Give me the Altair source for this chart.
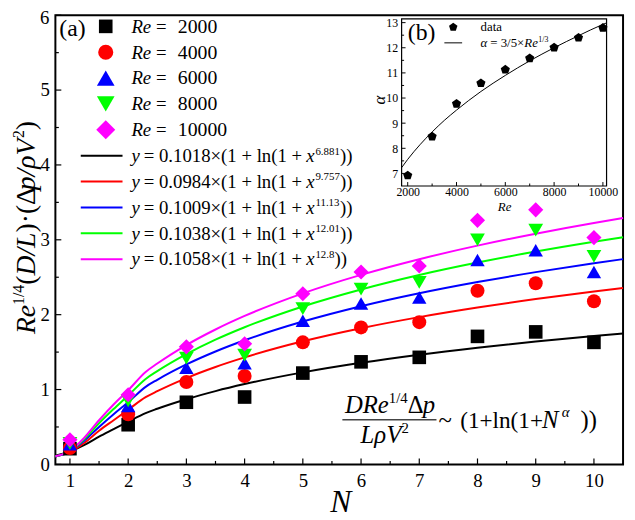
import altair as alt
import pandas as pd

FONT = "Liberation Serif"
OX, OY = 56, 12          # page position of the plot origin
W, H = 575, 455          # plot area

# ---------------- main data ----------------
N = [1, 2, 3, 4, 5, 6, 7, 8, 9, 10]
series = ["Re2000", "Re4000", "Re6000", "Re8000", "Re10000"]
re_labels = ["2000", "4000", "6000", "8000", "10000"]
re2000 = [0.21, 0.53, 0.83, 0.90, 1.22, 1.37, 1.43, 1.71, 1.77, 1.63]
re4000 = [0.22, 0.67, 1.10, 1.18, 1.63, 1.83, 1.90, 2.32, 2.42, 2.18]
re6000 = [0.27, 0.78, 1.29, 1.35, 1.92, 2.15, 2.23, 2.73, 2.86, 2.57]
re8000 = [0.28, 0.85, 1.42, 1.46, 2.08, 2.34, 2.43, 3.00, 3.13, 2.78]
re10000 = [0.33, 0.93, 1.57, 1.61, 2.28, 2.57, 2.65, 3.26, 3.40, 3.03]

fit_x = [0.75, 1, 1.25, 1.5, 1.75, 2, 2.3, 2.5, 3, 3.5, 4, 5, 6, 7, 8, 9, 10, 10.5]
fit_black = [0.115, 0.172, 0.26, 0.37, 0.47, 0.57, 0.686, 0.744, 0.871, 0.979, 1.073, 1.229, 1.357, 1.465, 1.558, 1.641, 1.715, 1.749]
fit_red = [0.104, 0.167, 0.29, 0.45, 0.59, 0.73, 0.898, 0.978, 1.153, 1.301, 1.429, 1.644, 1.819, 1.967, 2.095, 2.208, 2.309, 2.356]
fit_blue = [0.105, 0.171, 0.32, 0.50, 0.67, 0.83, 1.036, 1.130, 1.335, 1.508, 1.658, 1.908, 2.113, 2.286, 2.436, 2.568, 2.687, 2.742]
fit_green = [0.107, 0.176, 0.34, 0.55, 0.74, 0.92, 1.142, 1.246, 1.473, 1.666, 1.832, 2.110, 2.337, 2.530, 2.696, 2.843, 2.974, 3.035]
fit_magenta = [0.108, 0.179, 0.36, 0.59, 0.80, 0.99, 1.234, 1.347, 1.594, 1.802, 1.983, 2.285, 2.532, 2.741, 2.922, 3.081, 3.224, 3.290]
fit_coef = ["0.1018", "0.0984", "0.1009", "0.1038", "0.1058"]
fit_exp = ["6.881", "9.757", "11.13", "12.01", "12.8"]

colors = ["#000000", "#ff0000", "#0000ff", "#00ff00", "#ff00ff"]
shapes = ["square", "circle", "triangle-up", "triangle-down", "diamond"]
sizes = [190, 235, 320, 320, 370]

x_major = [1, 2, 3, 4, 5, 6, 7, 8, 9, 10]
x_minor = [1.5, 2.5, 3.5, 4.5, 5.5, 6.5, 7.5, 8.5, 9.5]
y_major = [0, 1, 2, 3, 4, 5, 6]
y_labels_axis = [0, 1, 2, 3, 4, 5]
y_minor = [0.5, 1.5, 2.5, 3.5, 4.5, 5.5]

# ---------------- inset data ----------------
in_re = [2000, 3000, 4000, 5000, 6000, 7000, 8000, 9000, 10000]
in_alpha = [6.92, 8.47, 9.77, 10.59, 11.13, 11.58, 12.01, 12.40, 12.79]
in_fit_re = [1750, 2000, 2500, 3000, 3500, 4000, 5000, 6000, 7000, 8000, 9000, 10000, 10150]
in_fit_alpha = [7.23, 7.56, 8.14, 8.65, 9.11, 9.52, 10.26, 10.90, 11.48, 12.00, 12.48, 12.93, 12.99]
in_x_major = [2000, 4000, 6000, 8000, 10000]
in_x_minor = [3000, 5000, 7000, 9000]
in_y_major = [7, 8, 9, 10, 11, 12, 13]
in_y_minor = [7.5, 8.5, 9.5, 10.5, 11.5, 12.5]

PENT = "M0,-1L0.951,-0.309L0.588,0.809L-0.588,0.809L-0.951,-0.309Z"

# ---------------- helpers ----------------
REG = {' ': 250, '(': 333, ')': 333, '+': 564, '=': 564, '×': 564, '.': 250, '/': 278,
       'l': 278, 'n': 500, '~': 541, 'Δ': 612, '·': 250, 'd': 500, 'a': 444, 't': 278, 'b': 500}
for _d in "0123456789":
    REG[_d] = 500
ITA = {'R': 611, 'e': 444, 'y': 444, 'x': 444, 'D': 722, 'L': 556, 'p': 500, 'V': 611,
       'N': 667, 'ρ': 500, 'α': 520, '/': 278}


def tw(s, size, italic=False):
    tab = ITA if italic else REG
    return sum(tab.get(c, 500) for c in s) * size / 1000.0


dummy = pd.DataFrame({"k": [0]})


def txt(s, px, py, size, italic=False, angle=0, align="left", baseline="alphabetic", color="black"):
    kw = dict(text=s, font=FONT, fontSize=size, align=align, baseline=baseline, color=color)
    if italic:
        kw["fontStyle"] = "italic"
    if angle:
        kw["angle"] = angle
    return alt.Chart(dummy).mark_text(**kw).encode(x=alt.value(px - OX), y=alt.value(py - OY))


def run(pieces, px, py):
    """pieces: (text, size, italic, rise, gap_before)"""
    out, x = [], px
    for s, size, it, rise, gap in pieces:
        x += gap
        out.append(txt(s, x, py - rise, size, it))
        x += tw(s, size, it)
    return out


def vrun(pieces, px, py):
    out, y = [], py
    for s, size, it, rise in pieces:
        out.append(txt(s, px - rise, y, size, it, angle=270))
        y -= tw(s, size, it)
    return out


def seg(px1, px2, py1, py2, color="black", width=2.0):
    return alt.Chart(dummy).mark_rule(color=color, strokeWidth=width).encode(
        x=alt.value(px1 - OX), x2=alt.value(px2 - OX), y=alt.value(py1 - OY), y2=alt.value(py2 - OY))


# ---------------- main panel ----------------
pts = pd.DataFrame({
    "N": N * 5,
    "v": re2000 + re4000 + re6000 + re8000 + re10000,
    "s": [s for s in series for _ in N],
})
fits = pd.DataFrame({
    "x": fit_x * 5,
    "y": fit_black + fit_red + fit_blue + fit_green + fit_magenta,
    "s": [s for s in series for _ in fit_x],
})

xs = alt.Scale(domain=[0.75, 10.5], nice=False, zero=False)
ys = alt.Scale(domain=[0, 6], nice=False, zero=False)
xaxis = alt.Axis(values=x_major, ticks=False, tickSize=0, domain=False, grid=False,
                 labelFont=FONT, labelFontSize=19, labelPadding=7, labelColor="black",
                 labelFlush=False, title=None)
yaxis = alt.Axis(values=y_labels_axis, ticks=False, tickSize=0, domain=False, grid=False,
                 labelFont=FONT, labelFontSize=19, labelPadding=6, labelColor="black",
                 labelFlush=False, title=None)
cscale = alt.Scale(domain=series, range=colors)

lines = alt.Chart(fits).mark_line(strokeWidth=2, interpolate="monotone").encode(
    x=alt.X("x:Q", scale=xs, axis=xaxis),
    y=alt.Y("y:Q", scale=ys, axis=yaxis),
    color=alt.Color("s:N", scale=cscale, legend=None),
    detail="s:N",
)
points = alt.Chart(pts).mark_point(filled=True, opacity=1, strokeWidth=0).encode(
    x=alt.X("N:Q", scale=xs, axis=xaxis),
    y=alt.Y("v:Q", scale=ys, axis=yaxis),
    color=alt.Color("s:N", scale=cscale, legend=None),
    shape=alt.Shape("s:N", scale=alt.Scale(domain=series, range=shapes), legend=None),
    size=alt.Size("s:N", scale=alt.Scale(domain=series, range=sizes), legend=None),
)


def xticks(vals, length):
    return alt.Chart(pd.DataFrame({"v": vals})).mark_rule(color="black", strokeWidth=1.2).encode(
        x=alt.X("v:Q", scale=xs, axis=xaxis), y=alt.value(H), y2=alt.value(H - length))


def yticks(vals, length):
    return alt.Chart(pd.DataFrame({"v": vals})).mark_rule(color="black", strokeWidth=1.2).encode(
        y=alt.Y("v:Q", scale=ys, axis=yaxis), x=alt.value(0), x2=alt.value(length))


main_layers = [xticks(x_major, 6), xticks(x_minor, 3.5), yticks(y_major, 6), yticks(y_minor, 3.5),
               lines, points]

# top y label (kept just inside the page)
main_layers.append(txt(str(y_major[-1]), 50, 14.5, 19, align="right", baseline="middle"))

# legend
row_y = [23.3 + 26.2 * i for i in range(10)]
for i, s in enumerate(series):
    cy = row_y[i]
    main_layers.append(
        alt.Chart(dummy).mark_point(filled=True, opacity=1, strokeWidth=0, shape=shapes[i],
                                    size=sizes[i], color=colors[i]).encode(
            x=alt.value(107 - OX), y=alt.value(cy - OY)))
    main_layers.append(txt("Re", 133, cy + 6.4, 19, True))
    main_layers.append(txt("=", 158, cy + 6.4, 19))
    main_layers.append(txt(re_labels[i], 180, cy + 6.4, 20))
for i in range(5):
    cy = row_y[5 + i]
    main_layers.append(seg(81.7, 124, cy, cy, colors[i], 2))
    main_layers += run([("y", 19, True, 0, 0),
                        ("= " + fit_coef[i] + "×(1 + ln(1 +", 19, False, 0, 4),
                        ("x", 19, True, 0, 4),
                        (fit_exp[i], 11, False, 7.5, 1),
                        ("))", 19, False, 0, 0)], 133, cy + 6.3)

# panel label
main_layers.append(txt("(a)", 60, 33, 24))

# axis titles
main_layers += vrun([("Re", 28, True, 0), ("1/4", 16, False, 11), ("(", 28, False, 0),
                     ("D/L", 28, True, 0), (")·(Δ", 28, False, 0), ("p/ρV", 28, True, 0),
                     ("2", 16, False, 11), (")", 28, False, 0)], 35, 335)
main_layers.append(txt("N", 345, 515, 32, True, align="center"))

# formula annotation
main_layers += run([("DRe", 25, True, 0, 0), ("1/4", 15, False, 10, 0), ("Δ", 25, False, 0, 0),
                    ("p", 25, True, 0, 0)], 349.3, 415)
main_layers.append(seg(346.7, 442, 421.7, 421.7, "#444444", 1.5))
main_layers += run([("L", 25, True, 0, 0), ("ρ", 25, True, 0, 0), ("V", 25, True, 0, 0),
                    ("2", 15, False, 10, 0)], 365, 445)
main_layers.append(txt("~", 444, 430, 25))
main_layers.append(txt("(1+ln(1+", 466, 430, 23.5))
main_layers.append(txt("N", 549, 430, 25, True))
main_layers.append(txt("α", 569, 419, 15, True))
main_layers.append(txt("))", 588, 430, 25))

main = alt.layer(*main_layers)

# ---------------- inset ----------------
ixs = alt.Scale(domain=[1750, 10150], range=[406.7 - OX, 614.3 - OX], nice=False, zero=False)
iys = alt.Scale(domain=[6.5, 13.15], range=[185 - OY, 15.7 - OY], nice=False, zero=False)
ixaxis = alt.Axis(orient="bottom", offset=185 - OY - H, values=in_x_major, format="d",
                  ticks=False, tickSize=0, domain=False, grid=False, labelFont=FONT,
                  labelFontSize=12, labelPadding=1, labelColor="black", labelFlush=False, title=None)
iyaxis = alt.Axis(orient="left", offset=-(406.7 - OX), values=in_y_major, format="d",
                  ticks=False, tickSize=0, domain=False, grid=False, labelFont=FONT,
                  labelFontSize=12, labelPadding=4, labelColor="black", labelFlush=False, title=None)

in_pts = pd.DataFrame({"re": in_re, "a": in_alpha})
in_fit = pd.DataFrame({"re": in_fit_re, "a": in_fit_alpha})

in_layers = [
    alt.Chart(in_fit).mark_line(color="black", strokeWidth=1, interpolate="monotone").encode(
        x=alt.X("re:Q", scale=ixs, axis=ixaxis), y=alt.Y("a:Q", scale=iys, axis=iyaxis)),
    alt.Chart(in_pts).mark_point(filled=True, opacity=1, strokeWidth=0, shape=PENT, size=95,
                                 color="black").encode(
        x=alt.X("re:Q", scale=ixs, axis=ixaxis), y=alt.Y("a:Q", scale=iys, axis=iyaxis)),
]
for vals, ln in ((in_x_major, 4), (in_x_minor, 2.5)):
    in_layers.append(alt.Chart(pd.DataFrame({"v": vals})).mark_rule(color="black", strokeWidth=1).encode(
        x=alt.X("v:Q", scale=ixs, axis=ixaxis), y=alt.value(185 - OY), y2=alt.value(185 - OY - ln)))
for vals, ln in ((in_y_major, 4), (in_y_minor, 2.5)):
    in_layers.append(alt.Chart(pd.DataFrame({"v": vals})).mark_rule(color="black", strokeWidth=1).encode(
        y=alt.Y("v:Q", scale=iys, axis=iyaxis), x=alt.value(406.7 - OX), x2=alt.value(406.7 - OX + ln)))
in_layers.append(alt.Chart(dummy).mark_rect(fillOpacity=0, stroke="black", strokeWidth=1.2).encode(
    x=alt.value(406.7 - OX), x2=alt.value(614.3 - OX), y=alt.value(15.7 - OY), y2=alt.value(185 - OY)))
# inset legend + labels
in_layers.append(alt.Chart(dummy).mark_point(filled=True, opacity=1, strokeWidth=0, shape=PENT,
                                             size=80, color="black").encode(
    x=alt.value(459 - OX), y=alt.value(24 - OY)))
in_layers.append(seg(450, 468, 40, 40, "black", 1))
in_layers.append(txt("data", 486.7, 28.5, 13))
in_layers += run([("α", 13, True, 0, 0), ("= 3/5×", 13, False, 0, 3), ("Re", 13, True, 0, 0),
                  ("1/3", 8, False, 5, 0.5)], 486.7, 44.5)
in_layers.append(txt("(b)", 413, 37, 24))
in_layers.append(txt("Re", 511, 210, 13, True, align="center"))
in_layers.append(txt("α", 385, 98, 17, True, angle=270, align="center", baseline="middle"))

inset = alt.layer(*in_layers)

chart = alt.layer(main, inset).resolve_scale(x="independent", y="independent").properties(
    width=W, height=H,
    padding={"left": OX - 8, "top": OY - 8, "right": 4, "bottom": 52},
    autosize=alt.AutoSizeParams(type="none"),
).configure_view(stroke="black", strokeWidth=2)

chart.save("out.html", embed_options={"renderer": "svg", "actions": False})
